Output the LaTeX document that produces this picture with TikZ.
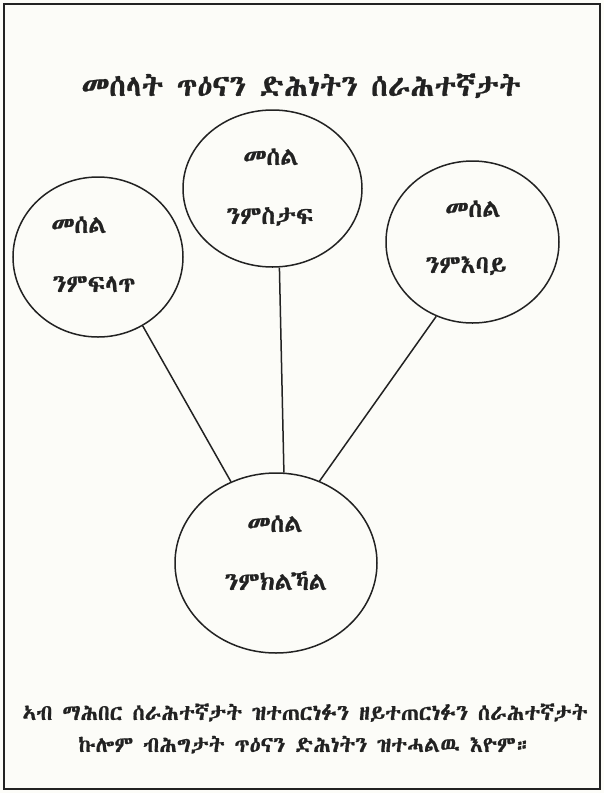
\documentclass[tikz,border=0pt]{standalone}
\usepackage{fontspec}
\IfFontExistsTF{Abyssinica SIL}{\setmainfont[FakeBold=0.8]{Abyssinica SIL}}{%
 \IfFontExistsTF{FreeSerif}{\setmainfont[FakeBold=0.8]{FreeSerif}}{%
  \IfFontExistsTF{Noto Sans Ethiopic}{\setmainfont{Noto Sans Ethiopic}}{%
   \setmainfont{Noto Sans}}}}
\usetikzlibrary{shapes.geometric}
\definecolor{ink}{HTML}{222222}
\definecolor{paper}{HTML}{FCFCF8}
\begin{document}
\begin{tikzpicture}[x=1pt,y=-1pt,
  circ/.style={draw=ink, line width=1.5pt, ellipse, inner sep=0pt},
  conn/.style={draw=ink, line width=1.5pt},
  lbl/.style={anchor=base, inner sep=0pt, text=ink, font=\fontsize{25}{28}\selectfont},
  ttl/.style={anchor=base, inner sep=0pt, text=ink, font=\fontsize{30}{34}\selectfont},
  foot/.style={anchor=base, inner sep=0pt, text=ink, font=\fontsize{22}{26}\selectfont}]
\fill[paper] (0,0) rectangle (604,793);
\useasboundingbox (0,0) rectangle (604,793);
\draw[ink, line width=1.8pt] (4,4) rectangle (600,789);

\node[ttl] (title) at (301,96) {መሰላት ጥዕናን ድሕነትን ሰራሕተኛታት};

\node[circ, minimum width=170pt, minimum height=160pt] (L) at (98,257) {};
\node[circ, minimum width=179pt, minimum height=157pt] (M) at (272.5,188.5) {};
\node[circ, minimum width=173pt, minimum height=162pt] (R) at (472.5,242) {};
\node[circ, minimum width=202pt, minimum height=180pt] (B) at (276,563) {};

\node[lbl] (L1) at (79,233) {መሰል};
\node[lbl] (L2) at (94,292) {ንምፍላጥ};
\node[lbl] (M1) at (271,165) {መሰል};
\node[lbl] (M2) at (270,224) {ንምስታፍ};
\node[lbl] (R1) at (473,217) {መሰል};
\node[lbl] (R2) at (466,273) {ንምእባይ};
\node[lbl] (B1) at (275,532) {መሰል};
\node[lbl] (B2) at (276,590) {ንምክልኻል};

\draw[conn] (L.-57) -- (B.119);
\draw[conn] (M.-85) -- (B.85.5);
\draw[conn] (R.244) -- (B.62);

\node[foot] (F1) at (305,720) {ኣብ ማሕበር ሰራሕተኛታት ዝተጠርነፉን ዘይተጠርነፉን ሰራሕተኛታት};
\node[foot] (F2) at (305,752) {ኩሎም ብሕግታት ጥዕናን ድሕነትን ዝተሓልዉ እዮም።};
\end{tikzpicture}
\end{document}
